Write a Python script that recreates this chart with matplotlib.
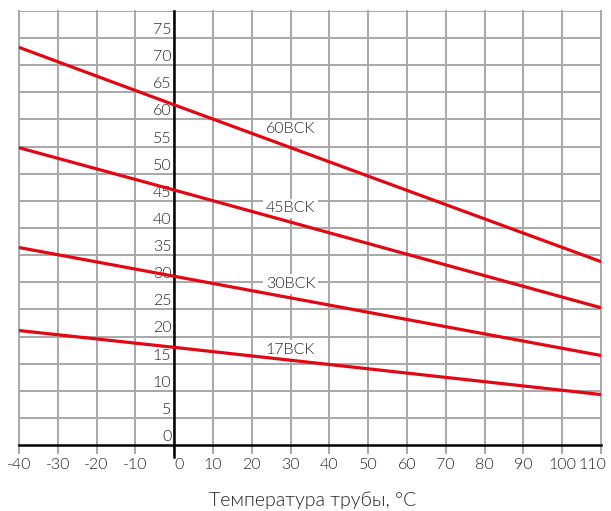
import matplotlib
matplotlib.use('Agg')
import matplotlib.pyplot as plt

plt.rcParams['font.family'] = ['Lato', 'DejaVu Sans']
plt.rcParams['font.weight'] = 300

# температура трубы, °C
temps = [-40, 0, 110]
# значения для каждой марки кабеля
s17 = [21.1, 18.0, 9.3]
s30 = [36.4, 31.1, 16.5]
s45 = [54.8, 47.0, 25.3]
s60 = [73.3, 62.7, 33.8]
names = ['17BCK', '30BCK', '45BCK', '60BCK']
label_pos = [(30, 17.6), (30, 29.7), (30, 43.6), (30, 58.2)]

xticks = list(range(-40, 111, 10))
yticks = list(range(0, 76, 5))

red = '#e30613'
grid_c = '#a8a8a8'
txt_c = '#222222'

fig = plt.figure(figsize=(6.11, 5.11), dpi=100)
ax = fig.add_axes([19/611, 66/511, 582/611, 434/511])
ax.set_xlim(-40, 110)
ax.set_ylim(0, 80)

# сетка
for x in xticks:
    ax.plot([x, x], [-1.5, 80], color=grid_c, lw=1.4, clip_on=False, zorder=1)
for y in yticks[1:] + [80]:
    ax.axhline(y, color=grid_c, lw=1.4, zorder=1)

for sp in ax.spines.values():
    sp.set_visible(False)
ax.plot([-40, 110], [0, 0], color='black', lw=1.8, clip_on=False, zorder=3)
ax.plot([0, 0], [-2.2, 80], color='black', lw=1.8, clip_on=False, zorder=3)

for vals in [s17, s30, s45, s60]:
    ax.plot(temps, vals, color=red, lw=2.3, zorder=4)

for name, (lx, ly) in zip(names, label_pos):
    ax.text(lx, ly, name, ha='center', va='center', fontsize=11.5, color=txt_c,
            zorder=3, bbox=dict(facecolor='white', edgecolor='none', pad=2))

ax.set_xticks([])
ax.set_yticks([])
for x in xticks:
    xx = x
    if x == 0:
        xx = 1.2
    elif x == 110:
        xx = 107.8
    ax.text(xx, -3.6, str(x), ha='center', va='center', fontsize=11.5, color=txt_c)
for y in yticks:
    ax.text(-0.7, y + 0.2, str(y), ha='right', va='bottom', fontsize=11.5, color=txt_c)

fig.text(313/611, 1 - 500/511, 'Температура трубы, °C', ha='center', va='center',
         fontsize=14, color=txt_c)

fig.savefig('out.png', dpi=100)
